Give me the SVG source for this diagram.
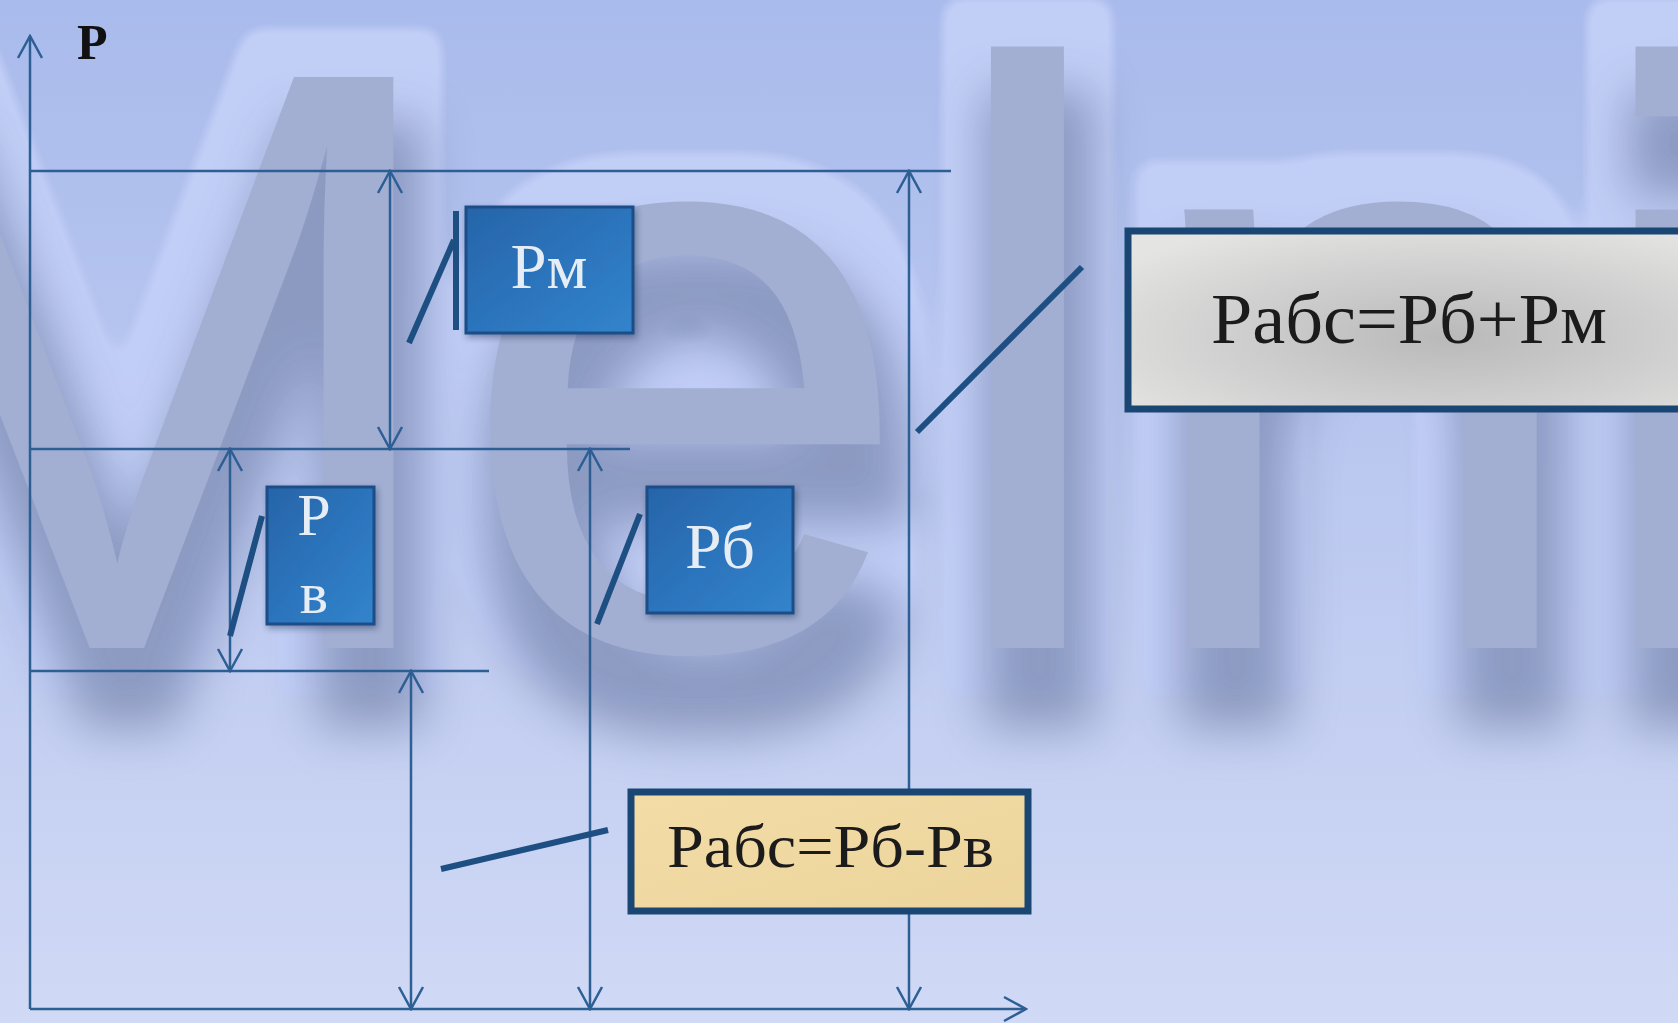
<svg xmlns="http://www.w3.org/2000/svg" width="1678" height="1023" viewBox="0 0 1678 1023">
<defs>
<linearGradient id="bg" x1="0" y1="0" x2="0" y2="1">
<stop offset="0" stop-color="#a9bbec"/>
<stop offset="0.5" stop-color="#bcc9f0"/>
<stop offset="1" stop-color="#d0d9f5"/>
</linearGradient>
<linearGradient id="blue" x1="0" y1="0" x2="1" y2="1">
<stop offset="0" stop-color="#2764a8"/>
<stop offset="0.5" stop-color="#2c74bc"/>
<stop offset="1" stop-color="#3184cc"/>
</linearGradient>
<radialGradient id="gray" cx="0.55" cy="0.6" r="0.7">
<stop offset="0" stop-color="#b9b9b9"/>
<stop offset="0.6" stop-color="#d2d2d2"/>
<stop offset="1" stop-color="#e4e4e2"/>
</radialGradient>
<linearGradient id="tan" x1="0" y1="0" x2="1" y2="1">
<stop offset="0" stop-color="#f3dca6"/>
<stop offset="1" stop-color="#ecd49c"/>
</linearGradient>
<filter id="wmf" filterUnits="userSpaceOnUse" x="-300" y="-100" width="2100" height="1300" color-interpolation-filters="sRGB">
<feMorphology in="SourceAlpha" operator="dilate" radius="48" result="d"/>
<feGaussianBlur in="d" stdDeviation="12" result="db"/>
<feComponentTransfer in="db" result="dr"><feFuncA type="linear" slope="3" intercept="-0.9"/></feComponentTransfer>
<feFlood flood-color="#c2cef6" flood-opacity="0.95"/>
<feComposite in2="dr" operator="in" result="halo"/>
<feMorphology in="SourceAlpha" operator="dilate" radius="18" result="d2"/>
<feOffset in="d2" dx="12" dy="62" result="o"/>
<feGaussianBlur in="o" stdDeviation="24" result="ob"/>
<feFlood flood-color="#4c5a84" flood-opacity="0.45"/>
<feComposite in2="ob" operator="in" result="shadow"/>
<feMerge><feMergeNode in="halo"/><feMergeNode in="shadow"/><feMergeNode in="SourceGraphic"/></feMerge>
</filter>
<filter id="bsh" x="-10%" y="-10%" width="130%" height="130%">
<feGaussianBlur in="SourceAlpha" stdDeviation="3"/>
<feOffset dx="2" dy="3" result="s"/>
<feFlood flood-color="#203050" flood-opacity="0.45"/>
<feComposite in2="s" operator="in" result="sc"/>
<feMerge><feMergeNode in="sc"/><feMergeNode in="SourceGraphic"/></feMerge>
</filter>
<marker id="arr" markerUnits="userSpaceOnUse" markerWidth="26" markerHeight="28" viewBox="0 0 26 28" refX="24" refY="14" orient="auto-start-reverse">
<path d="M2,2 L24,14 L2,26" fill="none" stroke="#2d5f95" stroke-width="2.5"/>
</marker>
</defs>
<style>
.ln{stroke:#2d5f95;stroke-width:2.5;fill:none}
.dim{stroke:#2d5f95;stroke-width:2.5;fill:none;marker-start:url(#arr);marker-end:url(#arr)}
.lead{stroke:#1d4f82;stroke-width:6;fill:none;stroke-linecap:butt}
.bbox{fill:url(#blue);stroke:#1b4e88;stroke-width:3}
.btxt{font-family:"Liberation Serif","DejaVu Serif",serif;fill:#e6edf4;text-anchor:middle}
.ftxt{font-family:"Liberation Serif","DejaVu Serif",serif;fill:#1b1b1b}
.wm{font-family:"Liberation Sans",Arial,sans-serif;font-size:830px}
</style>
<rect width="1678" height="1023" fill="url(#bg)"/>
<g id="watermark">
<text class="wm" x="-230 455 935 1129 1580" y="648" fill="#a2afd3" filter="url(#wmf)">Melni</text>
</g>
<g id="connectors">
<line class="ln" x1="30" y1="1009" x2="30" y2="36" marker-end="url(#arr)"/>
<line class="ln" x1="30" y1="1009" x2="1026" y2="1009" marker-end="url(#arr)"/>
<line class="ln" x1="30" y1="171" x2="951" y2="171"/>
<line class="ln" x1="30" y1="449" x2="630" y2="449"/>
<line class="ln" x1="30" y1="671" x2="489" y2="671"/>
<line class="dim" x1="390" y1="171" x2="390" y2="449"/>
<line class="dim" x1="230" y1="449" x2="230" y2="671"/>
<line class="dim" x1="411" y1="671" x2="411" y2="1009"/>
<line class="dim" x1="590" y1="449" x2="590" y2="1009"/>
<line class="dim" x1="909" y1="171" x2="909" y2="1009"/>
<polyline class="lead" points="409,343 454,240"/>
<line class="lead" x1="456" y1="211" x2="456" y2="330" stroke-width="7"/>
<line class="lead" x1="230" y1="636" x2="262" y2="516"/>
<line class="lead" x1="597" y1="624" x2="640" y2="514"/>
<line class="lead" x1="917" y1="432" x2="1082" y2="267"/>
<line class="lead" x1="441" y1="869" x2="608" y2="830"/>
</g>
<g id="axis-label">
<text x="77" y="59" font-family="Liberation Serif,serif" font-weight="bold" font-size="50" fill="#111">P</text>
</g>
<g id="node-pm">
<rect class="bbox" x="466" y="207" width="167" height="126" filter="url(#bsh)"/>
<text class="btxt" x="549" y="288" font-size="64" textLength="77" lengthAdjust="spacingAndGlyphs">Рм</text>
</g>
<g id="node-pv">
<rect class="bbox" x="267" y="487" width="107" height="137" filter="url(#bsh)"/>
<text class="btxt" x="314" y="535" font-size="60">Р</text>
<text class="btxt" x="314" y="613" font-size="60">в</text>
</g>
<g id="node-pb">
<rect class="bbox" x="647" y="487" width="146" height="126" filter="url(#bsh)"/>
<text class="btxt" x="720" y="568" font-size="64" textLength="70" lengthAdjust="spacingAndGlyphs">Рб</text>
</g>
<g id="node-abs-plus">
<rect x="1128" y="231" width="580" height="178" fill="url(#gray)" stroke="#1a4674" stroke-width="7"/>
<text class="ftxt" x="1211" y="343" font-size="72" textLength="396" lengthAdjust="spacingAndGlyphs">Рабс=Рб+Рм</text>
</g>
<g id="node-abs-minus">
<rect x="631" y="792" width="397" height="119" fill="url(#tan)" stroke="#1a4674" stroke-width="7"/>
<text class="ftxt" x="667" y="867" font-size="62" textLength="327" lengthAdjust="spacingAndGlyphs">Рабс=Рб-Рв</text>
</g>
</svg>
